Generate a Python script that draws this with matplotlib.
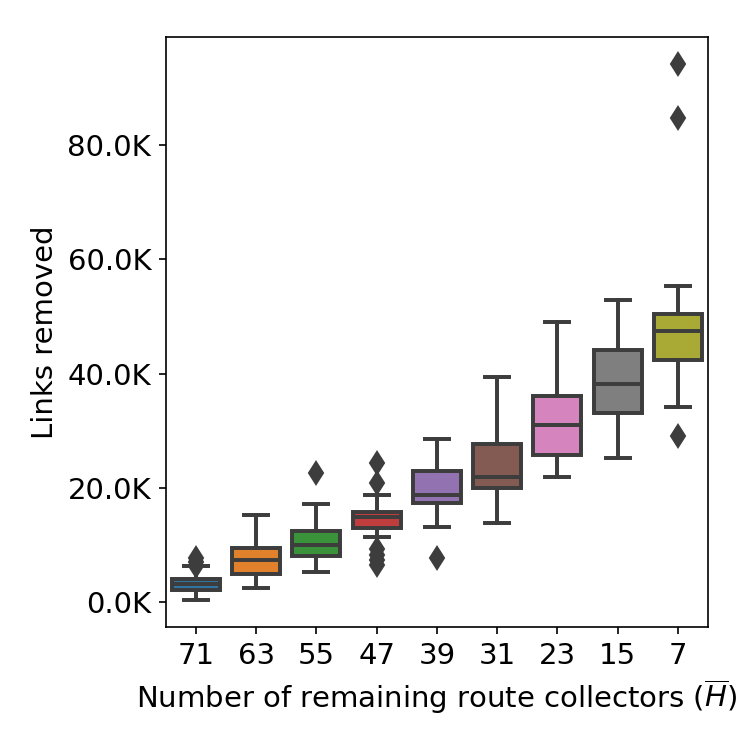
import colorsys
import numpy as np
from matplotlib import pyplot as plt
from matplotlib.ticker import FuncFormatter

# values in thousands of links
collectors = ['71', '63', '55', '47', '39', '31', '23', '15', '7']
medians = [3.2, 7.4, 10.0, 14.8, 18.8, 21.8, 30.9, 38.1, 47.4]
q1s = [2.1, 4.9, 8.0, 13.0, 17.4, 19.9, 25.8, 33.1, 42.3]
q3s = [4.0, 9.4, 12.5, 15.8, 23.0, 27.7, 36.0, 44.1, 50.5]
whis_lo = [0.3, 2.5, 5.2, 11.4, 13.2, 13.8, 21.9, 25.2, 34.2]
whis_hi = [6.3, 15.3, 17.2, 18.8, 28.6, 39.4, 49.1, 52.9, 55.4]
fliers = [[7.7, 6.9, 6.2], [], [22.6], [24.4, 20.8, 9.2, 8.3, 7.4, 6.5],
          [7.7], [], [], [], [94.3, 84.7, 29.1]]

stats = []
for i in range(len(collectors)):
    stats.append({'med': medians[i] * 1000, 'q1': q1s[i] * 1000, 'q3': q3s[i] * 1000,
                  'whislo': whis_lo[i] * 1000, 'whishi': whis_hi[i] * 1000,
                  'fliers': np.array(fliers[i]) * 1000})

# seaborn style desaturated tab10
cols = []
for c in plt.get_cmap('tab10').colors[:len(collectors)]:
    h, l, s = colorsys.rgb_to_hls(*c)
    cols.append(colorsys.hls_to_rgb(h, l, s * 0.75))
gray = (0.24, 0.24, 0.24)
lw = 1.9

plt.rcParams['font.size'] = 14
fig = plt.figure(figsize=(5, 5), dpi=150)
ax = fig.add_axes([0.221, 0.164, 0.723, 0.787])

bp = ax.bxp(stats, positions=range(len(collectors)), widths=0.8, patch_artist=True,
            boxprops=dict(edgecolor=gray, linewidth=lw),
            whiskerprops=dict(color=gray, linewidth=lw),
            capprops=dict(color=gray, linewidth=lw),
            medianprops=dict(color=gray, linewidth=lw),
            flierprops=dict(marker='d', markerfacecolor=gray, markeredgecolor=gray,
                            markersize=7.5))
for patch, c in zip(bp['boxes'], cols):
    patch.set_facecolor(c)

ax.set_xticks(range(len(collectors)))
ax.set_xticklabels(collectors)
ax.set_xlim(-0.5, len(collectors) - 0.5)
ax.yaxis.set_major_formatter(FuncFormatter(lambda v, p: '{:.1f}K'.format(v / 1000)))
ax.set_xlabel(r'Number of remaining route collectors ($\overline{H}$)')
ax.set_ylabel('Links removed')

fig.savefig('out.png')
